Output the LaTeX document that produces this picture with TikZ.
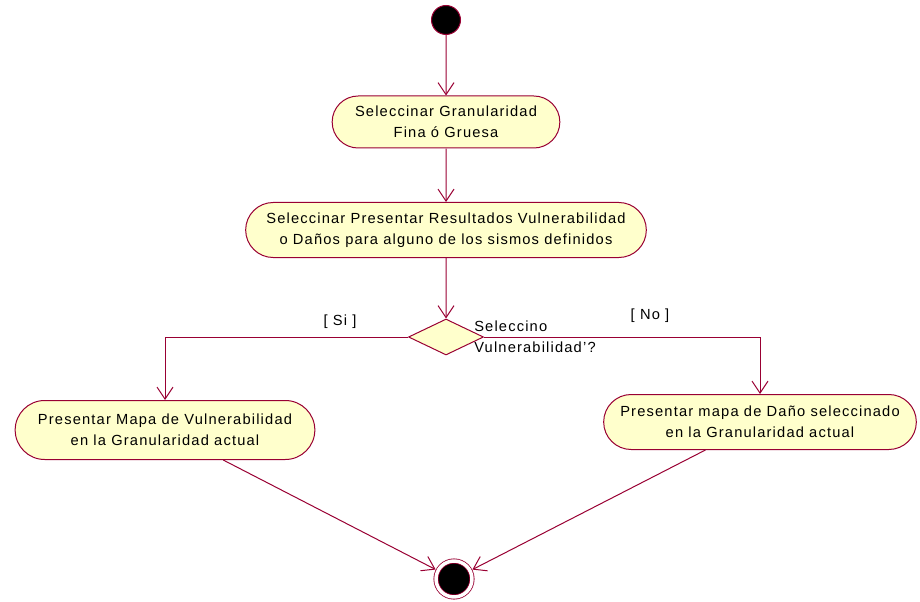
\documentclass[tikz,border=0pt]{standalone}
\usepackage{fontspec}
\setmainfont{Liberation Sans}[LetterSpace=8]
\usepackage{tikz}
\usetikzlibrary{shapes,arrows.meta,positioning}
\definecolor{umlred}{RGB}{153,0,51}
\definecolor{umlfill}{RGB}{255,255,204}

\begin{document}
\begin{tikzpicture}[
    x=0.75pt, y=-0.75pt,
    font=\fontsize{11}{15.75}\selectfont,
    activity/.style={rounded rectangle, draw=umlred, fill=umlfill, align=center, inner sep=2pt, line width=0.75pt},
    decision/.style={diamond, draw=umlred, fill=umlfill, minimum width=56.25pt, minimum height=27pt, inner sep=0pt, line width=0.75pt},
    initial/.style={circle, draw=umlred, fill=black, minimum size=21.75pt, inner sep=0pt, line width=0.75pt},
    final/.style={circle, draw=umlred, fill=black, minimum size=27pt, inner sep=0pt, line width=0.6pt, double=white, double distance=2.6pt, outer sep=2pt},
    guard/.style={inner sep=1pt},
    flow/.style={-{Straight Barb[length=9pt, width=12pt]}, draw=umlred, line width=0.75pt}
]
\useasboundingbox (0,0) rectangle (920,602);

% Start
\node[initial] (start) at (446,20) {};

% Activities
\node[activity, minimum width=174.75pt, minimum height=39pt] (granul) at (446,122) {Seleccinar Granularidad\\Fina ó Gruesa};
\node[activity, minimum width=304.5pt, minimum height=41.25pt] (result) at (446,230) {Seleccinar Presentar Resultados Vulnerabilidad\\o Daños para alguno de los sismos definidos};

% Decision
\node[decision] (choice) at (446,337) {};
\node[anchor=west, align=left, inner sep=0pt] (question) at (474,337) {Seleccino\\Vulnerabilidad'?};

% Branches
\node[activity, minimum width=228.75pt, minimum height=44.25pt] (vulmap) at (165,430) {Presentar Mapa de Vulnerabilidad\\en la Granularidad actual};
\node[activity, minimum width=238.5pt, minimum height=41.25pt] (damap) at (760,422) {Presentar mapa de Daño seleccinado\\en la Granularidad actual};

% End
\node[final] (finish) at (454,579) {};

% Guards
\node[guard] (si) at (340,322) {[ Si ]};
\node[guard] (no) at (650,316) {[ No ]};

% Connections
\draw[flow] (start) -- (granul);
\draw[flow] (granul) -- (result);
\draw[flow] (result) -- (choice);
\draw[flow] (choice.west) -| (vulmap.north);
\draw[flow] (choice.east) -| (damap.north);
\draw[flow] (vulmap) -- (finish);
\draw[flow] (damap) -- (finish);

\end{tikzpicture}
\end{document}
